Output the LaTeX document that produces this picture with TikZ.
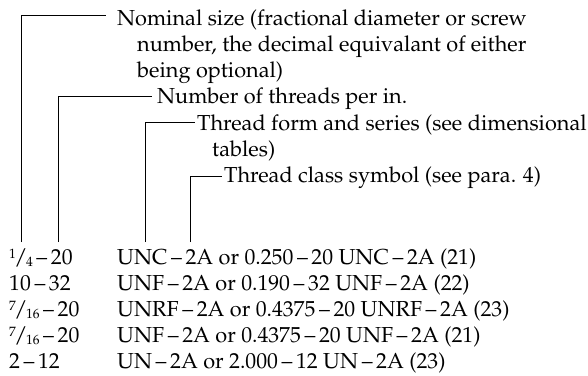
\documentclass[tikz,border=0pt]{standalone}
\usepackage[T1]{fontenc}
\usepackage{mathpazo}
\usepackage{tikz}

% split fraction as in the thread tables
\newcommand{\fracdig}{\fontsize{13.5}{14}\selectfont}
\newcommand{\sfr}[2]{\raisebox{6pt}{\fracdig #1}\kern-1.5pt/\kern-1.5pt\raisebox{-2.5pt}{\fracdig #2}}

\tikzset{
  txt/.style={anchor=base west, inner sep=0pt, font=\fontsize{21.7}{26}\selectfont},
  lead/.style={line width=1pt}
}

\begin{document}
\begin{tikzpicture}[x=1pt,y=1pt]
        \useasboundingbox (0,0) rectangle (588,375);
        % callout texts
        \node[txt](nom1)at(117,349){Nominal size (fractional diameter or screw};
        \node[txt](nom2)at(137,323){number, the decimal equivalant of either};
        \node[txt](nom3)at(137,297){being optional)};
        \node[txt](num)at(157,271){Number of threads per in.};
        \node[txt](frm1)at(197,244){Thread form and series (see dimensional};
        \node[txt](frm2)at(212,218){tables)};
        \node[txt](cls)at(224,192){Thread class symbol (see para. 4)};
        % examples
        \node[txt](a1)at(9,111){\sfr{1}{4}\,--\,20};
        \node[txt](a2)at(9,85){10\,--\,32};
        \node[txt](a3)at(9,59){\sfr{7}{16}\,--\,20};
        \node[txt](a4)at(9,33){\sfr{7}{16}\,--\,20};
        \node[txt](a5)at(9,7){2\,--\,12};
        \node[txt](b1)at(117,111){UNC\,--\,2A or 0.250\,--\,20 UNC\,--\,2A (21)};
        \node[txt](b2)at(117,85){UNF\,--\,2A or 0.190\,--\,32 UNF\,--\,2A (22)};
        \node[txt](b3)at(117,59){UNRF\,--\,2A or 0.4375\,--\,20 UNRF\,--\,2A (23)};
        \node[txt](b4)at(117,33){UNF\,--\,2A or 0.4375\,--\,20 UNF\,--\,2A (21)};
        \node[txt](b5)at(117,7){UN\,--\,2A or 2.000\,--\,12 UN\,--\,2A (23)};
        % feet of the leaders
        \coordinate (f1) at (21.7,133);
        \coordinate (f2) at (58.5,133);
        \coordinate (f3) at (145,133);
        \coordinate (f4) at (190.7,133);
        \draw[lead] (f1) |- ([shift={(-11pt,10pt)}]nom1.base west);
        \draw[lead] (f2) |- ([shift={(-5pt,7pt)}]num.base west);
        \draw[lead] (f3) |- ([shift={(-2pt,8pt)}]frm1.base west);
        \draw[lead] (f4) |- ([shift={(-2pt,6pt)}]cls.base west);
\end{tikzpicture}
\end{document}
